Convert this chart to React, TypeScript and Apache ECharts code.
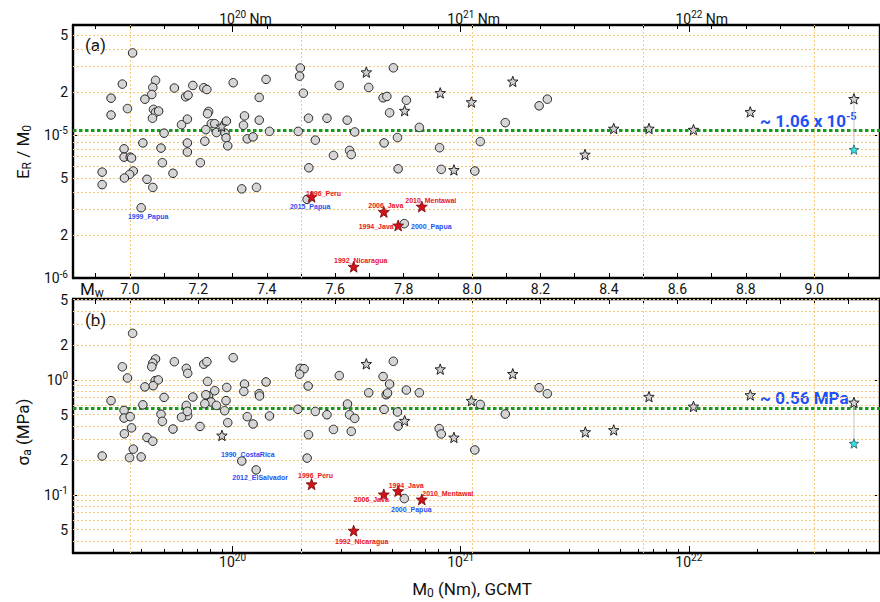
import React, { useEffect, useRef } from "react";
import * as echarts from "echarts";

// ---------------- Data ----------------
// x: moment magnitude Mw (M0 = 10^(1.5 Mw + 9.05) Nm); y panel (a): E_R/M0; y panel (b): sigma_a (MPa)

const circlesA: [number, number][] = [
  [7.008, 3.75e-5], [6.978, 2.27e-5], [7.075, 2.41e-5], [7.067, 2.15e-5], [7.064, 1.92e-5],
  [7.044, 1.78e-5], [6.945, 1.81e-5], [6.993, 1.53e-5], [7.069, 1.51e-5], [7.075, 1.44e-5],
  [7.084, 1.47e-5], [7.066, 1.31e-5], [6.945, 1.38e-5], [7.130, 2.13e-5], [7.163, 1.85e-5],
  [7.170, 1.90e-5], [7.151, 1.18e-5], [7.168, 1.29e-5], [7.100, 1.03e-5], [7.038, 0.88e-5],
  [6.983, 0.80e-5], [7.091, 0.81e-5], [6.983, 0.70e-5], [7.001, 0.70e-5], [7.005, 0.69e-5],
  [7.095, 0.64e-5], [7.010, 0.56e-5], [6.999, 0.53e-5], [6.984, 0.50e-5], [6.919, 0.55e-5],
  [6.919, 0.45e-5], [7.050, 0.49e-5], [7.067, 0.43e-5], [7.126, 0.54e-5], [7.168, 0.88e-5],
  [7.168, 0.76e-5], [7.184, 2.22e-5], [7.216, 2.14e-5], [7.225, 2.08e-5], [7.230, 1.46e-5],
  [7.227, 1.41e-5], [7.238, 1.20e-5], [7.248, 1.20e-5], [7.222, 1.09e-5], [7.282, 1.25e-5],
  [7.253, 1.04e-5], [7.278, 1.03e-5], [7.281, 0.955e-5], [7.286, 0.84e-5], [7.219, 0.905e-5],
  [7.206, 0.64e-5], [7.302, 2.32e-5], [7.335, 1.36e-5], [7.332, 1.17e-5], [7.343, 0.94e-5],
  [7.360, 0.97e-5], [7.398, 2.45e-5], [7.378, 1.83e-5], [7.378, 1.27e-5], [7.408, 1.06e-5],
  [7.327, 0.42e-5], [7.370, 0.43e-5], [7.498, 2.94e-5], [7.496, 2.58e-5], [7.507, 1.96e-5],
  [7.492, 1.06e-5], [7.522, 1.31e-5], [7.542, 0.92e-5], [7.523, 0.59e-5], [7.576, 1.31e-5],
  [7.595, 0.72e-5], [7.612, 2.22e-5], [7.635, 1.27e-5], [7.642, 0.78e-5], [7.647, 0.73e-5],
  [7.657, 1.05e-5], [7.698, 2.15e-5], [7.740, 1.82e-5], [7.751, 1.86e-5], [7.759, 1.43e-5],
  [7.743, 0.88e-5], [7.770, 2.95e-5], [7.782, 0.96e-5], [7.784, 0.58e-5], [7.808, 1.75e-5],
  [7.846, 1.13e-5], [7.905, 0.815e-5], [7.910, 0.575e-5], [8.008, 0.56e-5], [8.024, 0.90e-5],
  [8.097, 1.22e-5], [8.196, 1.60e-5], [8.220, 1.78e-5],
];
const labelledCirclesA: [string, number, number][] = [
  ["1999_Papua", 7.033, 0.31e-5],
  ["2015_Papua", 7.518, 0.355e-5],
  ["2000_Papua", 7.802, 0.24e-5],
];
const starsA: [number, number][] = [
  [7.268, 1.15e-5], [7.691, 2.75e-5], [7.803, 1.48e-5], [7.907, 1.97e-5], [7.947, 0.57e-5],
  [7.998, 1.70e-5], [8.119, 2.37e-5], [8.330, 0.73e-5], [8.414, 1.11e-5], [8.517, 1.11e-5],
  [8.647, 1.09e-5], [8.813, 1.45e-5], [9.116, 1.79e-5],
];
const cyanStarA: [number, number][] = [[9.116, 0.79e-5]];
const redStarsA: [string, number, number][] = [
  ["1996_Peru", 7.531, 0.37e-5],
  ["2006_Java", 7.742, 0.29e-5],
  ["2010_Mentawai", 7.853, 0.316e-5],
  ["1994_Java", 7.784, 0.233e-5],
  ["1992_Nicaragua", 7.654, 0.12e-5],
];

const circlesB: [number, number][] = [
  [7.008, 2.54], [6.978, 1.30], [7.075, 1.52], [7.067, 1.40], [7.064, 1.30],
  [6.993, 1.04], [7.074, 0.985], [7.083, 1.0], [7.068, 0.89], [7.044, 0.87],
  [7.130, 1.44], [7.165, 1.26], [7.169, 1.14], [6.945, 0.66], [7.100, 0.705],
  [7.038, 0.607], [6.983, 0.543], [7.165, 0.60], [7.169, 0.489], [7.151, 0.474],
  [6.983, 0.466], [7.001, 0.479], [7.091, 0.503], [7.095, 0.436], [7.005, 0.383],
  [6.984, 0.34], [7.126, 0.374], [7.050, 0.316], [7.067, 0.293], [7.010, 0.25],
  [6.919, 0.218], [6.999, 0.211], [7.033, 0.214], [7.168, 0.532], [7.184, 0.71],
  [7.216, 1.37], [7.225, 1.44], [7.227, 0.97], [7.230, 0.725], [7.222, 0.743],
  [7.237, 0.643], [7.248, 0.806], [7.219, 0.621], [7.253, 0.60], [7.281, 0.66],
  [7.283, 0.86], [7.277, 0.54], [7.286, 0.425], [7.205, 0.394], [7.302, 1.56],
  [7.335, 0.92], [7.333, 0.794], [7.343, 0.479], [7.360, 0.414], [7.398, 0.96],
  [7.378, 0.759], [7.379, 0.725], [7.408, 0.486], [7.498, 1.26], [7.509, 1.25],
  [7.496, 1.12], [7.491, 0.556], [7.521, 0.885], [7.542, 0.532], [7.522, 0.334],
  [7.518, 0.209], [7.576, 0.498], [7.595, 0.371], [7.612, 1.09], [7.636, 0.617],
  [7.642, 0.498], [7.647, 0.357], [7.657, 0.463], [7.698, 0.774], [7.740, 1.07],
  [7.759, 0.92], [7.749, 0.743], [7.753, 0.769], [7.743, 0.554], [7.770, 1.45],
  [7.782, 0.526], [7.784, 0.397], [7.808, 0.817], [7.846, 0.774], [7.904, 0.377],
  [7.910, 0.339], [8.008, 0.246], [8.024, 0.612], [8.097, 0.505], [8.196, 0.856],
  [8.220, 0.759],
];
const labelledCirclesB: [string, number, number][] = [
  ["1990_CostaRica", 7.327, 0.197],
  ["2012_ElSalvador", 7.369, 0.165],
  ["2000_Papua", 7.802, 0.093],
];
const starsB: [number, number][] = [
  [7.269, 0.329], [7.691, 1.38], [7.803, 0.442], [7.907, 1.24], [7.947, 0.316],
  [7.998, 0.66], [8.119, 1.13], [8.331, 0.352], [8.414, 0.367], [8.517, 0.715],
  [8.647, 0.588], [8.813, 0.739], [9.116, 0.637],
];
const cyanStarB: [number, number][] = [[9.116, 0.28]];
const redStarsB: [string, number, number][] = [
  ["1996_Peru", 7.531, 0.124],
  ["1994_Java", 7.784, 0.108],
  ["2006_Java", 7.742, 0.101],
  ["2010_Mentawai", 7.853, 0.0914],
  ["1992_Nicaragua", 7.654, 0.0489],
];

const meanER = 1.06e-5;
const meanSigma = 0.56;

// Tick labels
const mwLabels = ["7.0", "7.2", "7.4", "7.6", "7.8", "8.0", "8.2", "8.4", "8.6", "8.8", "9.0"];
const m0Decades = [20, 21, 22];
const yLabelsA = [5e-5, 2e-5, 1e-5, 5e-6, 2e-6, 1e-6];
const yLabelsB = [5, 2, 1, 0.5, 0.2, 0.1, 0.05];
const yMajorA = [1e-5, 1e-6];
const yMajorB = [1, 0.1];
const mwGridLines = [7.0, 7.5, 8.0, 8.5, 9.0];

// ---------------- Styling / layout ----------------
const labelOffsets: Record<string, [number, number]> = {
  "a:1999_Papua": [7, 8.5],
  "a:2015_Papua": [3, 7],
  "a:2000_Papua": [27, 3],
  "a:1996_Peru": [12, -3.5],
  "a:2006_Java": [2, -6.5],
  "a:2010_Mentawai": [9, -6.5],
  "a:1994_Java": [-22, 1],
  "a:1992_Nicaragua": [7, -6.5],
  "b:1990_CostaRica": [6, -6.5],
  "b:2012_ElSalvador": [4, 8],
  "b:2000_Papua": [7, 11],
  "b:1996_Peru": [4, -9],
  "b:1994_Java": [8, -6],
  "b:2006_Java": [-12.5, 5.5],
  "b:2010_Mentawai": [26, -6],
  "b:1992_Nicaragua": [8, 11],
};

const FONT = "Roboto, 'Liberation Sans', sans-serif";
const SMALL_FONT = "'Liberation Sans', Arial, sans-serif";
const RED = "#e8141c";
const BLUE = "#1f4ff5";

const MW_MIN = 6.8338;
const MW_MAX = 9.1921;
const A_MIN = -6;
const A_MAX = -4.2308;
const B_MIN = -1.505;
const B_MAX = 0.7035;

const lg = Math.log10;
const mwOfLogM0 = (l: number) => (l - 9.05) / 1.5;
const r1 = (v: number) => Math.round(v * 10) / 10;

const mwTicks = Array.from({ length: 23 }, (_, i) => r1(6.9 + i * 0.1));
const decadeMw = m0Decades.map(mwOfLogM0);
const logMinorMw: number[] = [];
for (let n = 19; n <= 22; n++) {
  for (let k = 2; k <= 9; k++) {
    const m = mwOfLogM0(n + lg(k));
    if (m > MW_MIN && m < MW_MAX) logMinorMw.push(m);
  }
}
const gridLogs = (lo: number, hi: number) => {
  const out: number[] = [];
  for (let n = Math.floor(lo); n <= Math.ceil(hi); n++) {
    for (let k = 1; k <= 9; k++) {
      const v = n + lg(k);
      if (v > lo + 1e-6 && v < hi - 1e-6) out.push(v);
    }
  }
  return out;
};

const starPath = (() => {
  const pts: string[] = [];
  for (let i = 0; i < 10; i++) {
    const r = i % 2 === 0 ? 1 : 0.42;
    const a = -Math.PI / 2 + (i * Math.PI) / 5;
    pts.push(`${(r * Math.cos(a)).toFixed(4)} ${(r * Math.sin(a)).toFixed(4)}`);
  }
  return "path://M" + pts.join(" L") + " Z";
})();

const TICK_FS = 14;
const tickRich = {
  b: { fontSize: TICK_FS, fontFamily: FONT, color: "#111", lineHeight: 17 },
  s: { fontSize: 10, fontFamily: FONT, color: "#111", lineHeight: 17, padding: [0, 0, 8, 0] },
  n: { fontSize: TICK_FS, fontFamily: FONT, color: "#111", lineHeight: 17 },
};

const yFmt = (v: number) => {
  const e = Math.floor(v + 1e-6);
  const m = Math.round(Math.pow(10, v - e));
  return m === 1 ? `{b|10}{s|${e}}` : `{b|${m}}`;
};

const axisLine = { show: true, onZero: false, lineStyle: { color: "#000", width: 2.4 } };
const noAxisLine = { show: false, onZero: false };
const ticks = (len: number, values: number[]) => ({
  show: true,
  inside: true,
  length: len,
  customValues: values,
  lineStyle: { color: "#000", width: 1 },
});
const xBase = (grid: number, position: string) => ({
  type: "value",
  gridIndex: grid,
  position,
  min: MW_MIN,
  max: MW_MAX,
  splitLine: { show: false },
});

const toLog = (pts: [number, number][]) => pts.map(([m, v]) => [m, lg(v)]);

const circleItem = { color: "#d5d5d5", borderColor: "#222", borderWidth: 1, opacity: 1 };
const starItem = { color: "#d0d0d0", borderColor: "#222", borderWidth: 1, opacity: 1 };
const redItem = { color: "#d4101a", borderColor: "#6e0808", borderWidth: 0.8, opacity: 1 };
const cyanItem = { color: "#38e3e3", borderColor: "#2a5a5a", borderWidth: 0.8, opacity: 1 };

const markLines = (lo: number, hi: number, mean: number) => ({
  silent: true,
  symbol: ["none", "none"],
  z: 1,
  animation: false,
  label: { show: false },
  emphasis: { disabled: true },
  lineStyle: { color: "#f7c77a", width: 1, type: [2, 2] },
  data: [
    ...gridLogs(lo, hi).map((v) => ({ yAxis: v })),
    ...mwGridLines.map((m) => ({ xAxis: m })),
    { yAxis: lg(mean), lineStyle: { color: "#169a1a", width: 3, type: [3.5, 2.5] } },
  ],
});

const labelled = (panel: string, pts: [string, number, number][]) =>
  pts.map(([name, m, v]) => ({
    name,
    value: [m, lg(v)],
    label: { offset: labelOffsets[`${panel}:${name}`] },
  }));

const pointLabel = (color: string) => ({
  show: true,
  position: "inside",
  formatter: "{b}",
  fontSize: 7,
  fontWeight: "bold",
  fontFamily: SMALL_FONT,
  color,
  textBorderWidth: 0,
});

const panelSeries = (
  panel: string,
  xi: number,
  yi: number,
  circles: [number, number][],
  lab: [string, number, number][],
  stars: [number, number][],
  cyan: [number, number][],
  reds: [string, number, number][],
  lo: number,
  hi: number,
  mean: number
) => [
  {
    type: "scatter",
    xAxisIndex: xi,
    yAxisIndex: yi,
    symbol: "circle",
    symbolSize: 8.5,
    itemStyle: circleItem,
    data: toLog(circles),
    markLine: markLines(lo, hi, mean),
    z: 3,
  },
  {
    type: "line",
    xAxisIndex: xi,
    yAxisIndex: yi,
    symbol: "none",
    lineStyle: { color: "#c4c4c4", width: 1 },
    data: toLog([stars[stars.length - 1], cyan[0]]),
    z: 2,
  },
  {
    type: "scatter",
    xAxisIndex: xi,
    yAxisIndex: yi,
    symbol: "circle",
    symbolSize: 8.5,
    itemStyle: circleItem,
    label: pointLabel(BLUE),
    data: labelled(panel, lab),
    z: 3,
  },
  {
    type: "scatter",
    xAxisIndex: xi,
    yAxisIndex: yi,
    symbol: starPath,
    symbolSize: 10.5,
    itemStyle: starItem,
    data: toLog(stars),
    z: 4,
  },
  {
    type: "scatter",
    xAxisIndex: xi,
    yAxisIndex: yi,
    symbol: starPath,
    symbolSize: 9.5,
    itemStyle: cyanItem,
    data: toLog(cyan),
    z: 4,
  },
  {
    type: "scatter",
    xAxisIndex: xi,
    yAxisIndex: yi,
    symbol: starPath,
    symbolSize: 11,
    itemStyle: redItem,
    label: pointLabel(RED),
    data: labelled(panel, reds),
    z: 5,
  },
];

const titleRich = {
  n: { fontSize: 17, fontFamily: FONT, fill: "#111" },
  sub: { fontSize: 12, fontFamily: FONT, fill: "#111", padding: [7, 0, 0, 0] },
};

const option: any = {
  animation: false,
  backgroundColor: "#fff",
  grid: [
    { left: 73, top: 25, width: 809, height: 253 },
    { left: 73, top: 299, width: 809, height: 254 },
  ],
  xAxis: [
    {
      ...xBase(0, "bottom"),
      axisLine,
      axisTick: ticks(5, mwTicks),
      axisLabel: {
        show: true,
        customValues: mwLabels.map(Number),
        formatter: (v: number) => v.toFixed(1),
        margin: 4,
        fontSize: TICK_FS,
        fontFamily: FONT,
        color: "#111",
      },
    },
    { ...xBase(0, "top"), axisLine, axisTick: ticks(4, mwTicks), axisLabel: { show: false } },
    {
      ...xBase(0, "top"),
      axisLine: noAxisLine,
      axisTick: ticks(7, decadeMw),
      axisLabel: {
        show: true,
        customValues: decadeMw,
        formatter: (v: number) => `{b|10}{s|${Math.round(1.5 * v + 9.05)}}{n| Nm}`,
        rich: tickRich,
        margin: -2,
        padding: [0, 0, 0, 26],
      },
    },
    { ...xBase(1, "top"), axisLine, axisTick: ticks(5, mwTicks), axisLabel: { show: false } },
    { ...xBase(1, "bottom"), axisLine, axisTick: ticks(4, logMinorMw), axisLabel: { show: false } },
    {
      ...xBase(1, "bottom"),
      axisLine: noAxisLine,
      axisTick: ticks(7, decadeMw),
      axisLabel: {
        show: true,
        customValues: decadeMw,
        formatter: (v: number) => `{b|10}{s|${Math.round(1.5 * v + 9.05)}}`,
        rich: tickRich,
        margin: 0,
      },
    },
  ],
  yAxis: [
    {
      type: "value",
      gridIndex: 0,
      position: "left",
      min: A_MIN,
      max: A_MAX,
      axisLine,
      axisTick: ticks(6, yMajorA.map(lg)),
      axisLabel: {
        show: true,
        customValues: yLabelsA.map(lg),
        formatter: yFmt,
        rich: tickRich,
        margin: 5,
        showMinLabel: true,
        showMaxLabel: true,
      },
      splitLine: { show: false },
    },
    {
      type: "value",
      gridIndex: 0,
      position: "right",
      min: A_MIN,
      max: A_MAX,
      axisLine,
      axisTick: ticks(6, yMajorA.map(lg)),
      axisLabel: { show: false },
      splitLine: { show: false },
    },
    {
      type: "value",
      gridIndex: 1,
      position: "left",
      min: B_MIN,
      max: B_MAX,
      axisLine,
      axisTick: ticks(6, yMajorB.map(lg)),
      axisLabel: {
        show: true,
        customValues: yLabelsB.map(lg),
        formatter: yFmt,
        rich: tickRich,
        margin: 5,
        showMinLabel: true,
        showMaxLabel: true,
      },
      splitLine: { show: false },
    },
    {
      type: "value",
      gridIndex: 1,
      position: "right",
      min: B_MIN,
      max: B_MAX,
      axisLine,
      axisTick: ticks(6, yMajorB.map(lg)),
      axisLabel: { show: false },
      splitLine: { show: false },
    },
  ],
  series: [
    ...panelSeries("a", 0, 0, circlesA, labelledCirclesA, starsA, cyanStarA, redStarsA, A_MIN, A_MAX, meanER),
    ...panelSeries("b", 4, 2, circlesB, labelledCirclesB, starsB, cyanStarB, redStarsB, B_MIN, B_MAX, meanSigma),
  ],
  graphic: [
    { type: "text", x: 85, y: 45, style: { text: "(a)", fontSize: 17, fontFamily: FONT, fill: "#111", align: "left", verticalAlign: "middle" } },
    { type: "text", x: 85, y: 320, style: { text: "(b)", fontSize: 17, fontFamily: FONT, fill: "#111", align: "left", verticalAlign: "middle" } },
    {
      type: "text",
      x: 23,
      y: 152,
      rotation: Math.PI / 2,
      style: { text: "{n|E}{sub|R}{n| / M}{sub|0}", rich: titleRich, align: "center", verticalAlign: "middle" },
    },
    {
      type: "text",
      x: 23,
      y: 432,
      rotation: Math.PI / 2,
      style: { text: "{n|σ}{sub|a}{n| (MPa)}", rich: titleRich, align: "center", verticalAlign: "middle" },
    },
    {
      type: "text",
      x: 472,
      y: 589,
      style: { text: "{n|M}{sub|0}{n| (Nm), GCMT}", rich: titleRich, align: "center", verticalAlign: "middle" },
    },
    {
      type: "text",
      x: 80,
      y: 289,
      style: { text: "{n|M}{sub|w}", rich: titleRich, align: "left", verticalAlign: "middle" },
    },
    {
      type: "text",
      x: 760,
      y: 121,
      style: {
        text: "{m|~ 1.06 x 10}{e|-5}",
        rich: {
          m: { fontSize: 17, fontWeight: "bold", fontFamily: FONT, fill: BLUE },
          e: { fontSize: 11, fontWeight: "bold", fontFamily: FONT, fill: BLUE, padding: [0, 0, 9, 0] },
        },
        align: "left",
        verticalAlign: "middle",
      },
    },
    {
      type: "text",
      x: 760,
      y: 398,
      style: {
        text: "~ 0.56 MPa",
        fontSize: 17,
        fontWeight: "bold",
        fontFamily: FONT,
        fill: BLUE,
        align: "left",
        verticalAlign: "middle",
      },
    },
  ],
};

export default function App() {
  const ref = useRef<HTMLDivElement>(null);
  useEffect(() => {
    if (!ref.current) return;
    const chart = echarts.init(ref.current, undefined, { renderer: "svg" });
    chart.setOption(option);
    return () => chart.dispose();
  }, []);
  return (
    <div
      ref={ref}
      style={{ position: "fixed", left: 0, top: 0, width: 880, height: 602, background: "#fff" }}
    />
  );
}
